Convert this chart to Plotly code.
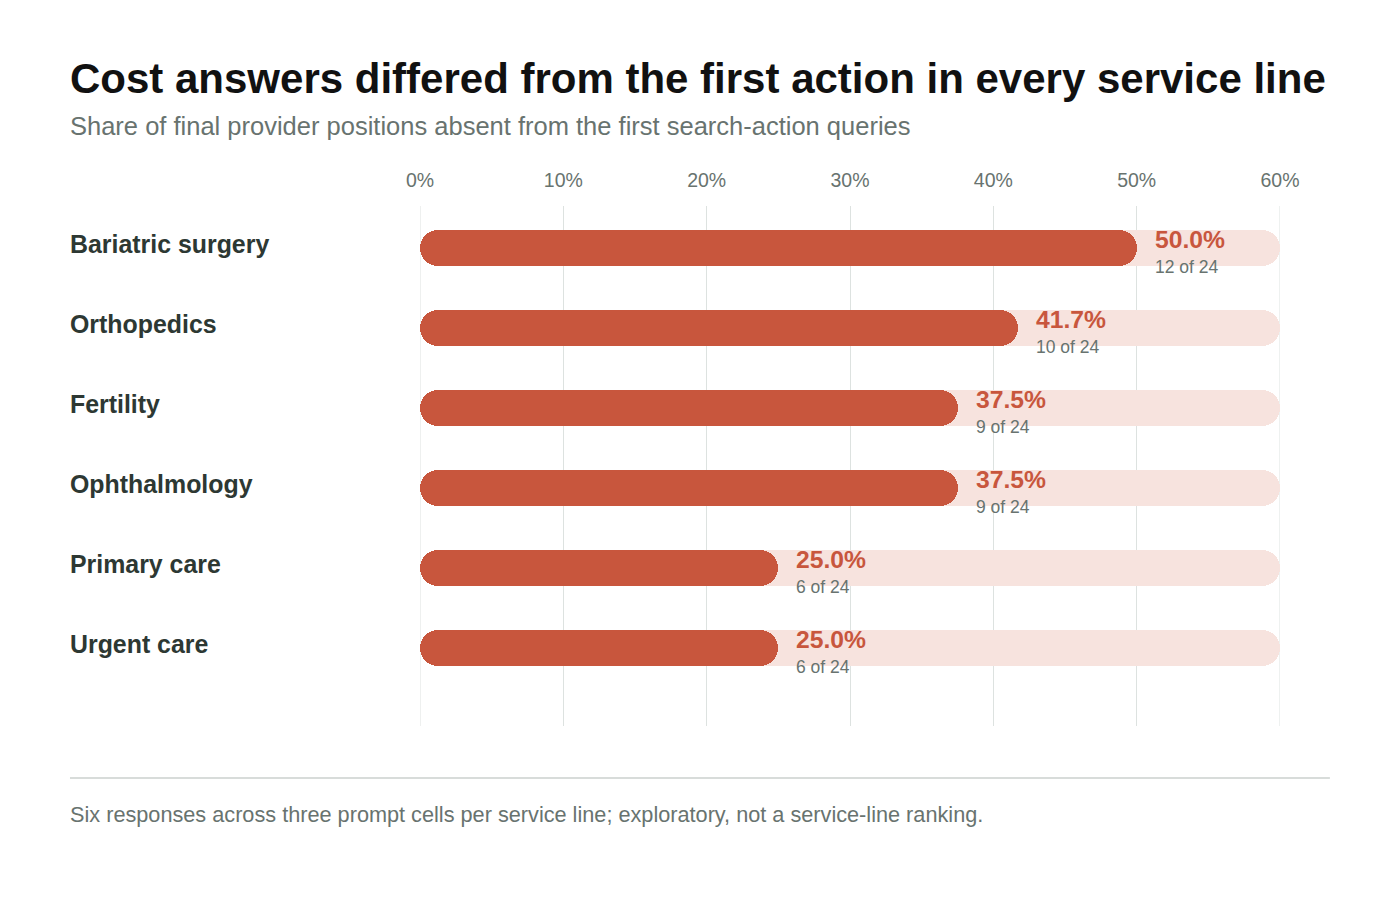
import plotly.graph_objects as go

# data
service_lines = ["Bariatric surgery", "Orthopedics", "Fertility",
                 "Ophthalmology", "Primary care", "Urgent care"]
absent_share = [50.0, 41.7, 37.5, 37.5, 25.0, 25.0]
absent_count = [12, 10, 9, 9, 6, 6]
total_count = [24, 24, 24, 24, 24, 24]
axis_max = 60
tick_vals = [0, 10, 20, 30, 40, 50, 60]
tick_text = ["0%", "10%", "20%", "30%", "40%", "50%", "60%"]

FONT = "Liberation Sans, Arial, sans-serif"
RED = "#c8563d"
TRACK = "#f7e3de"
GRAY = "#68736f"
DARK = "#2d3833"
GRID = "#dde2e0"

rows = list(range(len(service_lines)))
bar_w = 0.45
radius = 18
LEFT = -0.409  # paper x of the left text column


def rounded_bar(fig, lengths, color):
    # explicit base -> plotly rounds both ends of the bar
    fig.add_trace(go.Bar(y=rows, x=lengths, base=[0] * len(lengths), orientation="h",
                         width=bar_w, marker=dict(color=color, cornerradius=radius,
                                                  line=dict(width=0)),
                         hoverinfo="skip", showlegend=False))


fig = go.Figure()
rounded_bar(fig, [axis_max] * len(rows), TRACK)
rounded_bar(fig, absent_share, RED)

annotations = []
for r, name, share, n, tot in zip(rows, service_lines, absent_share, absent_count, total_count):
    annotations.append(dict(x=LEFT, xref="paper", y=r, yref="y", text=f"<b>{name}</b>",
                            xanchor="left", yanchor="middle", yshift=4, showarrow=False,
                            font=dict(family=FONT, size=24.9, color=DARK)))
    annotations.append(dict(x=share, xref="x", y=r, yref="y", text=f"<b>{share:.1f}%</b>",
                            xanchor="left", yanchor="middle", xshift=16, yshift=9,
                            showarrow=False, font=dict(family=FONT, size=24.7, color=RED)))
    annotations.append(dict(x=share, xref="x", y=r, yref="y", text=f"{n} of {tot}",
                            xanchor="left", yanchor="middle", xshift=16, yshift=-19,
                            showarrow=False, font=dict(family=FONT, size=17.5, color=GRAY)))

annotations += [
    dict(x=LEFT, xref="paper", y=1.246, yref="paper",
         text="<b>Cost answers differed from the first action in every service line</b>",
         xanchor="left", yanchor="middle", showarrow=False,
         font=dict(family=FONT, size=42, color="#111111")),
    dict(x=LEFT, xref="paper", y=1.154, yref="paper",
         text="Share of final provider positions absent from the first search-action queries",
         xanchor="left", yanchor="middle", showarrow=False,
         font=dict(family=FONT, size=25.5, color=GRAY)),
    dict(x=LEFT, xref="paper", y=-0.171, yref="paper",
         text="Six responses across three prompt cells per service line; exploratory, not a service-line ranking.",
         xanchor="left", yanchor="middle", showarrow=False,
         font=dict(family=FONT, size=21.7, color=GRAY)),
]

# plotly skips gridlines on the range edges, so draw the 0% and 60% ones
edge_lines = [dict(type="line", xref="x", yref="paper", x0=v, x1=v, y0=0, y1=1,
                   layer="below", line=dict(color=GRID, width=1))
              for v in (tick_vals[0], tick_vals[-1])]

fig.update_layout(
    width=1400, height=900,
    margin=dict(l=412, r=128, t=198, b=182),
    paper_bgcolor="white", plot_bgcolor="white",
    barmode="overlay", bargap=0,
    annotations=annotations,
    shapes=edge_lines + [dict(type="line", xref="paper", yref="paper", x0=-0.407, x1=1.058,
                              y0=-0.1, y1=-0.1, line=dict(color="#d8dcda", width=2))],
    xaxis=dict(range=[0, axis_max], side="top", tickvals=tick_vals, ticktext=tick_text,
               showgrid=True, gridcolor=GRID, gridwidth=1, zeroline=False,
               showline=False, ticks="", ticklabelstandoff=14,
               tickfont=dict(family=FONT, size=19.5, color=GRAY), fixedrange=True),
    yaxis=dict(range=[len(rows) - 0.025, -0.525], showticklabels=False, showgrid=False,
               zeroline=False, showline=False, fixedrange=True),
)

fig.write_html("out.html")
